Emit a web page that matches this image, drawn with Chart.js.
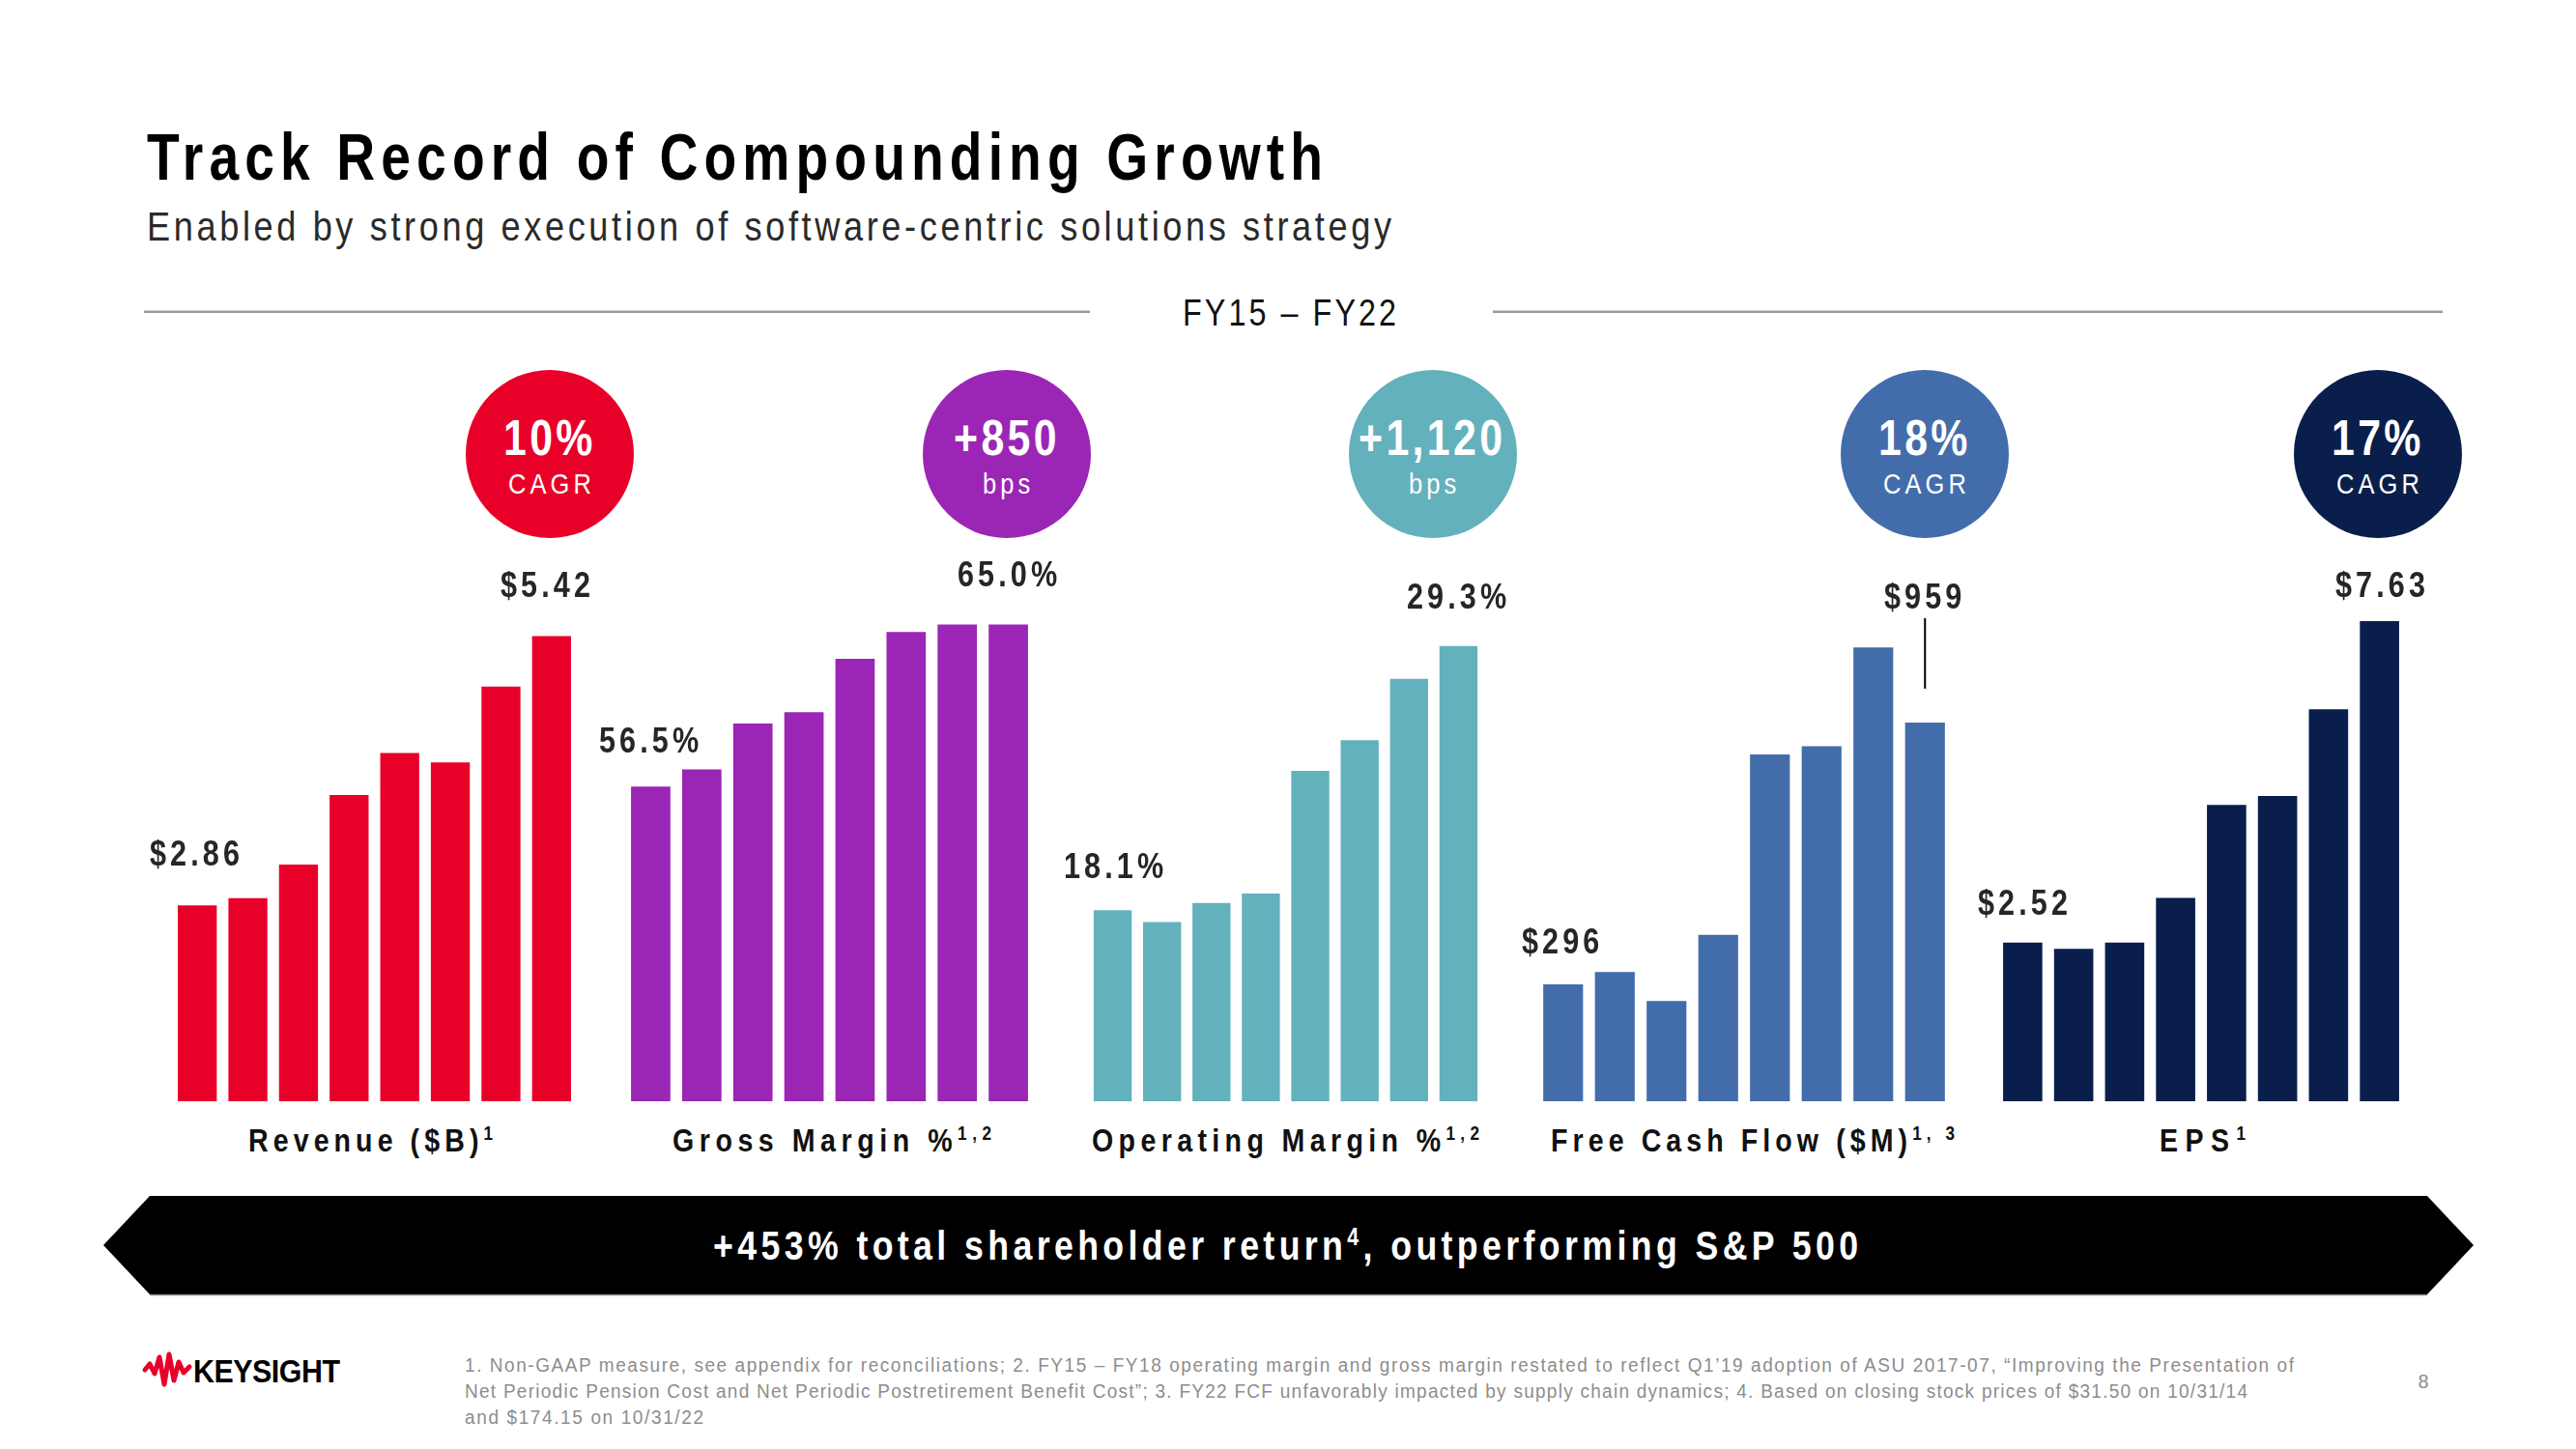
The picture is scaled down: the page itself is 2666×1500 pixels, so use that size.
<!DOCTYPE html>
<html>
<head>
<meta charset="utf-8">
<script src="https://cdn.jsdelivr.net/npm/chart.js@4.4.1/dist/chart.umd.min.js"></script>
<style>
  html, body { margin: 0; padding: 0; }
  body { width: 2666px; height: 1500px; position: relative; overflow: hidden; background: #fff;
         font-family: 'Liberation Sans', Arial, Helvetica, sans-serif; }
  .t { position: absolute; white-space: nowrap; line-height: 1; display: inline-block; }
  .sup { font-size: 0.6em; position: relative; top: -0.62em; }
  .circle { position: absolute; border-radius: 50%; }
  canvas { position: absolute; }
</style>
</head>
<body>
<svg id="deco" width="2666" height="1500" style="position:absolute;left:0;top:0">
  <line x1="149" y1="322.7" x2="1128" y2="322.7" stroke="#9a9a9a" stroke-width="2.5"/>
  <line x1="1545" y1="322.7" x2="2528" y2="322.7" stroke="#9a9a9a" stroke-width="2.5"/>
  <polygon points="107,1289 155,1238 2512,1238 2560,1289 2512,1340 155,1340" fill="#000"/>
  <line x1="155" y1="1340.5" x2="2512" y2="1340.5" stroke="#8a8a8a" stroke-width="1.5"/>
  <path d="M150,1418 L155,1412 L160,1422 L165,1405 L170,1433 L175,1402 L180,1429 L185,1410 L190,1421 L196,1415"
        fill="none" stroke="#E90029" stroke-width="5" stroke-linejoin="round" stroke-linecap="round"/>
</svg>
<script>
// ---------------- DATA ----------------
const years = ['FY15', 'FY16', 'FY17', 'FY18', 'FY19', 'FY20', 'FY21', 'FY22'];
const revenue = [2.86, 2.93, 3.25, 3.91, 4.31, 4.22, 4.94, 5.42];
const grossMargin = [56.5, 57.4, 59.8, 60.4, 63.2, 64.6, 65.0, 65.0];
const operatingMargin = [18.1, 17.6, 18.4, 18.8, 24.0, 25.3, 27.9, 29.3];
const freeCashFlow = [296, 327, 254, 421, 878, 899, 1149, 959];
const eps = [2.52, 2.42, 2.52, 3.23, 4.71, 4.85, 6.23, 7.63];
const panelTitles = ['Revenue ($B)', 'Gross Margin %', 'Operating Margin %', 'Free Cash Flow ($M)', 'EPS'];
const panelNotes = ['1', '1,2', '1,2', '1, 3', '1'];
const growthValues = ['10%', '+850', '+1,120', '18%', '17%'];
const growthUnits = ['CAGR', 'bps', 'bps', 'CAGR', 'CAGR'];
const yMins = [1, 40, 10, 0, 0];
const yMaxs = [6.324, 69.38, 33.75, 1418.5, 8.904];
const fmt = [
  v => '$' + v.toFixed(2),
  v => v.toFixed(1) + '%',
  v => v.toFixed(1) + '%',
  v => '$' + v.toFixed(0),
  v => '$' + v.toFixed(2)
];
const titleText = 'Track Record of Compounding Growth';
const subtitleText = 'Enabled by strong execution of software-centric solutions strategy';
const periodText = 'FY15 \u2013 FY22';
const bannerText = '+453% total shareholder return<span class="sup">4</span>, outperforming S&amp;P 500';
const footnotes = [
  '1. Non-GAAP measure, see appendix for reconciliations; 2. FY15 \u2013 FY18 operating margin and gross margin restated to reflect Q1\u201919 adoption of ASU 2017-07, \u201cImproving the Presentation of',
  'Net Periodic Pension Cost and Net Periodic Postretirement Benefit Cost\u201d; 3. FY22 FCF unfavorably impacted by supply chain dynamics; 4. Based on closing stock prices of $31.50 on 10/31/14',
  'and $174.15 on 10/31/22'
];
const series = [revenue, grossMargin, operatingMargin, freeCashFlow, eps];

// ---------------- LAYOUT / STYLE ----------------
const colors = ['#E90029', '#9B26B5', '#64B1BE', '#436DAA', '#0A1E4B'];
const chartLefts = [178, 647, 1126, 1591, 2067];
const chartWidths = [419, 423, 409, 428, 422];
const chartTop = 560, chartHeight = 580;
const labelLift = [[53.5, 52.4], [48, 51.5], [46, 51], [44.6, 130], [41.4, 37]];
const labelDx = [[-3, -6.5], [-2, -1], [1, -1.5], [-3, -2], [0, 1]];
const circleX = [569, 1042, 1483, 1992, 2461];
const circleY = 470, circleR = 87;
const catDx = [-4, 2, 0, 9, 1];
const catWidths = [253, 330, 401, 418, 89];

function addText(html, o) {
  const el = document.createElement('div');
  el.className = 't';
  el.innerHTML = html;
  el.style.fontSize = o.size + 'px';
  el.style.fontWeight = o.bold ? '700' : '400';
  el.style.color = o.color || '#000';
  el.style.top = (o.baseline - 0.8465 * o.size) + 'px';
  el.style.left = '0px';
  document.body.appendChild(el);
  el.style.letterSpacing = '0px';
  const w0 = el.getBoundingClientRect().width;
  const n = el.textContent.length;
  let s = o.s, ls = o.ls || 0;
  if (o.target != null && o.s != null) ls = (o.target / s - w0) / (n - 1);
  else if (o.target != null) s = o.target / (w0 + (n - 1) * ls);
  el.style.letterSpacing = ls + 'px';
  const gw = s * (w0 + (n - 1) * ls);
  const left = o.anchor === 'center' ? o.x - gw / 2 : o.x;
  el.style.left = left + 'px';
  el.style.transformOrigin = '0 0';
  el.style.transform = 'scaleX(' + s + ')';
  return el;
}

// Header
addText(titleText, {x: 151.7, baseline: 186, size: 69, bold: true, color: '#000', target: 1217, s: 0.8});
addText(subtitleText, {x: 151.7, baseline: 249, size: 43, color: '#2a2a2a', target: 1288, s: 0.84});
addText(periodText, {x: 1224, baseline: 336.7, size: 38, color: '#111', target: 221, s: 0.85});

// Circles
for (let i = 0; i < 5; i++) {
  const c = document.createElement('div');
  c.className = 'circle';
  c.style.left = (circleX[i] - circleR) + 'px';
  c.style.top = (circleY - circleR) + 'px';
  c.style.width = c.style.height = (2 * circleR) + 'px';
  c.style.background = colors[i];
  document.body.appendChild(c);
  addText(growthValues[i], {x: circleX[i] - 2, anchor: 'center', baseline: 471, size: 51, bold: true, color: '#fff', s: 0.84, ls: 4});
  addText(growthUnits[i], {x: circleX[i], anchor: 'center', baseline: 511, size: 30, color: '#fff', s: 0.85, ls: 4.8});
}

// Leader line plugin for FCF peak label
const leaderPlugin = {
  id: 'leader',
  afterDatasetsDraw(chart, args, opts) {
    if (!opts.on) return;
    const bar = chart.getDatasetMeta(0).data[7];
    const ctx = chart.ctx;
    ctx.save();
    ctx.strokeStyle = '#000';
    ctx.lineWidth = 2;
    ctx.beginPath();
    ctx.moveTo(bar.x, bar.y - 35);
    ctx.lineTo(bar.x, bar.y - 108);
    ctx.stroke();
    ctx.restore();
  }
};

// Charts
for (let i = 0; i < 5; i++) {
  const cv = document.createElement('canvas');
  cv.width = chartWidths[i];
  cv.height = chartHeight;
  cv.style.left = chartLefts[i] + 'px';
  cv.style.top = chartTop + 'px';
  cv.style.width = chartWidths[i] + 'px';
  cv.style.height = chartHeight + 'px';
  document.body.appendChild(cv);
  const chart = new Chart(cv, {
    type: 'bar',
    data: {
      labels: years,
      datasets: [{
        data: series[i],
        backgroundColor: colors[i],
        borderWidth: 0,
        barPercentage: 0.77,
        categoryPercentage: 1.0
      }]
    },
    options: {
      responsive: false,
      animation: false,
      devicePixelRatio: 1,
      events: [],
      layout: {padding: 0},
      plugins: {legend: {display: false}, tooltip: {enabled: false}, leader: {on: i === 3}},
      scales: {
        x: {display: false, grid: {display: false}},
        y: {display: false, min: yMins[i], max: yMaxs[i], grid: {display: false}}
      }
    },
    plugins: [leaderPlugin]
  });
  const meta = chart.getDatasetMeta(0);
  [0, 7].forEach((idx, k) => {
    const bar = meta.data[idx];
    const cx = chartLefts[i] + bar.x + labelDx[i][k];
    const capCenter = chartTop + bar.y - labelLift[i][k];
    addText(fmt[i](series[i][idx]), {x: cx, anchor: 'center', baseline: capCenter + 0.358 * 36, size: 36, bold: true, color: '#262626', s: 0.85, ls: 4.8});
  });
  const gc = chartLefts[i] + (meta.data[0].x + meta.data[7].x) / 2 + catDx[i];
  addText(panelTitles[i] + '<span class="sup">' + panelNotes[i] + '</span>',
          {x: gc, anchor: 'center', baseline: 1192, size: 34, bold: true, color: '#111', target: catWidths[i], s: 0.84});
}

// Banner text
addText(bannerText, {x: 1330, anchor: 'center', baseline: 1305, size: 42, bold: true, color: '#fff', target: 1185, s: 0.85});

// Footer
addText('KEYSIGHT', {x: 200, baseline: 1431, size: 34, bold: true, color: '#000', target: 152, ls: -0.5});
const fnBase = [1420, 1447, 1474];
const fnW = [1893, 1845, 247];
footnotes.forEach((f, k) => addText(f, {x: 481, baseline: fnBase[k], size: 20, color: '#8d8d8d', target: fnW[k], s: 0.95}));
addText('8', {x: 2508, anchor: 'center', baseline: 1437, size: 20, color: '#8d8d8d', s: 1, ls: 0});
</script>
</body>
</html>
